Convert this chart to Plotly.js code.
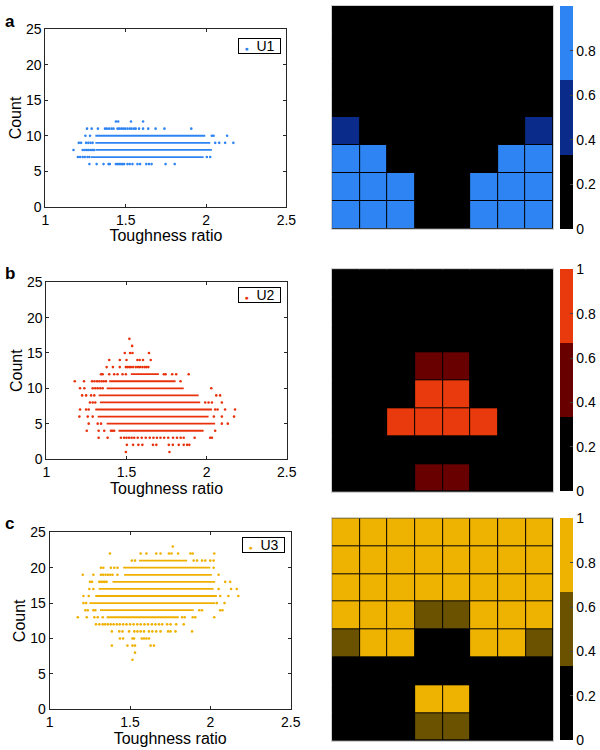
<!DOCTYPE html>
<html>
<head>
<meta charset="utf-8">
<script src="https://cdn.plot.ly/plotly-3.0.1.min.js"></script>
<style>html,body{margin:0;padding:0;background:#fff;}#chart{width:600px;height:750px;}</style>
</head>
<body>
<div id="chart"></div>
<script>
// ---------- Scatter data (Count levels, sparse points, dense segments) ----------
const u1Counts = [12, 11, 10, 9, 8, 7, 6];
const u1Points = [
  [1.439, 1.453, 1.533, 1.608],
  [1.259, 1.288, 1.327, 1.371, 1.383, 1.397, 1.412, 1.424, 1.449, 1.459, 1.472, 1.484, 1.496, 1.511, 1.525, 1.537, 1.552, 1.562, 1.583, 1.608, 1.640, 1.686, 1.741, 1.908],
  [1.249, 1.278, 2.036, 2.047, 2.131],
  [1.208, 1.222, 1.253, 1.267, 1.281, 1.294, 2.057, 2.082, 2.119, 2.170],
  [1.175, 1.232, 1.245, 1.258, 1.270, 1.284, 1.296, 1.305],
  [1.202, 1.216, 1.232, 1.245, 1.262, 1.274, 2.005, 2.026],
  [1.274, 1.319, 1.362, 1.393, 1.401, 1.439, 1.449, 1.459, 1.470, 1.480, 1.490, 1.511, 1.525, 1.542, 1.573, 1.589, 1.628, 1.645, 1.661, 1.748, 1.805]
];
const u1DenseStart = [null, null, 1.311, 1.311, 1.315, 1.284, null];
const u1DenseEnd   = [null, null, 1.995, 2.026, 2.036, 1.985, null];

const u2Counts = [17, 16, 15, 14, 13, 12, 11, 10, 9, 8, 7, 6, 5, 4, 3, 2, 1];
const u2Points = [
  [1.518],
  [1.535],
  [1.489, 1.522, 1.537, 1.640],
  [1.392, 1.458, 1.500, 1.568, 1.582, 1.603, 1.651],
  [1.376, 1.415, 1.458, 1.496, 1.506, 1.517, 1.527, 1.541, 1.558, 1.572, 1.584, 1.599, 1.613, 1.624, 1.636],
  [1.341, 1.351, 1.392, 1.423, 1.444, 1.475, 1.496, 1.733, 1.744, 1.785, 1.810, 1.888],
  [1.177, 1.235, 1.285, 1.300, 1.316, 1.330, 1.345, 1.358, 1.372, 1.837],
  [1.210, 1.237, 1.289, 1.305, 1.320, 1.336, 1.351, 2.029],
  [1.223, 1.248, 1.279, 1.299, 2.060, 2.084],
  [1.272, 1.289, 1.305, 1.991, 2.012, 2.033, 2.095],
  [1.210, 1.248, 1.264, 2.053, 2.068, 2.115, 2.177],
  [1.206, 1.258, 1.289, 2.045, 2.095, 2.171],
  [1.264, 1.320, 1.341, 2.095, 2.132],
  [1.252, 1.326, 1.361, 1.403, 1.413, 1.423, 2.053],
  [1.326, 1.382, 1.465, 1.485, 1.500, 1.516, 1.532, 1.548, 1.570, 1.595, 1.620, 1.645, 1.668, 1.690, 1.712, 1.735, 1.760, 1.790, 1.815, 1.838, 1.857, 1.925, 2.022, 2.033],
  [1.502, 1.541, 1.574, 1.599, 1.665, 1.686, 1.764, 1.789, 1.826, 1.857, 1.878, 1.892],
  [1.496, 1.768]
];
const u2DenseStart = [null, null, null, null, null, 1.527, 1.392, 1.376, 1.326, 1.334, 1.305, 1.320, 1.376, 1.450, null, null, null];
const u2DenseEnd   = [null, null, null, null, null, 1.702, 1.806, 1.857, 1.950, 1.960, 2.033, 2.012, 2.053, 1.981, null, null, null];

const u3Counts = [23, 22, 21, 20, 19, 18, 17, 16, 15, 14, 13, 12, 11, 10, 9, 8, 7];
const u3Points = [
  [1.766],
  [1.375, 1.566, 1.602, 1.663, 1.690, 1.742, 1.758, 1.799, 1.876, 1.890, 2.024],
  [1.511, 1.531, 1.896, 1.917, 1.948, 1.968, 1.999, 2.020],
  [1.319, 1.334, 1.381, 1.402, 1.422, 2.020],
  [1.206, 1.272, 1.319, 1.333, 1.348, 1.362, 1.377, 1.391, 1.422, 2.051],
  [1.251, 1.264, 1.309, 1.320, 1.332, 1.343, 1.354, 2.092, 2.123],
  [1.247, 1.272, 2.051, 2.129, 2.164],
  [1.210, 1.243, 2.061, 2.112, 2.174],
  [1.210, 1.227, 2.040, 2.088],
  [1.222, 1.237, 1.272, 1.284, 1.931, 1.948, 2.061, 2.075],
  [1.175, 1.231, 1.278, 1.299, 1.330, 1.824, 1.840, 1.890, 1.906, 2.024],
  [1.288, 1.309, 1.330, 1.345, 1.362, 1.380, 1.398, 1.418, 1.436, 1.457, 1.478, 1.500, 1.522, 1.545, 1.566, 1.590, 1.612, 1.636, 1.658, 1.680, 1.700, 1.731, 1.752, 1.787, 1.834],
  [1.387, 1.433, 1.453, 1.494, 1.527, 1.546, 1.566, 1.587, 1.618, 1.639, 1.663, 1.690, 1.737, 1.752, 1.783, 1.886],
  [1.437, 1.457, 1.515, 1.525, 1.573, 1.587, 1.602, 1.618],
  [1.387, 1.484, 1.515, 1.531, 1.628, 1.649],
  [1.531],
  [1.515]
];
const u3DenseStart = [null, null, 1.556, 1.457, 1.463, 1.391, 1.305, 1.284, 1.247, 1.313, 1.354, null, null, null, null, null, null];
const u3DenseEnd   = [null, null, 1.855, 1.999, 2.009, 2.030, 2.020, 2.040, 2.030, 1.896, 1.803, null, null, null, null, null, null];

const seriesNames = ['U1', 'U2', 'U3'];
const xTickVals = [1, 1.5, 2, 2.5];
const xTickText = ['1', '1.5', '2', '2.5'];
const yTickVals = [0, 5, 10, 15, 20, 25];

// ---------- Heatmap data (8x8, top row first) ----------
const gridA = [
  [0, 0, 0, 0, 0, 0, 0, 0],
  [0, 0, 0, 0, 0, 0, 0, 0],
  [0, 0, 0, 0, 0, 0, 0, 0],
  [0, 0, 0, 0, 0, 0, 0, 0],
  [0.5, 0, 0, 0, 0, 0, 0, 0.5],
  [1, 1, 0, 0, 0, 0, 1, 1],
  [1, 1, 1, 0, 0, 1, 1, 1],
  [1, 1, 1, 0, 0, 1, 1, 1]
];
const gridB = [
  [0, 0, 0, 0, 0, 0, 0, 0],
  [0, 0, 0, 0, 0, 0, 0, 0],
  [0, 0, 0, 0, 0, 0, 0, 0],
  [0, 0, 0, 0.5, 0.5, 0, 0, 0],
  [0, 0, 0, 1, 1, 0, 0, 0],
  [0, 0, 1, 1, 1, 1, 0, 0],
  [0, 0, 0, 0, 0, 0, 0, 0],
  [0, 0, 0, 0.5, 0.5, 0, 0, 0]
];
const gridC = [
  [1, 1, 1, 1, 1, 1, 1, 1],
  [1, 1, 1, 1, 1, 1, 1, 1],
  [1, 1, 1, 1, 1, 1, 1, 1],
  [1, 1, 1, 0.5, 0.5, 1, 1, 1],
  [0.5, 1, 1, 0, 0, 1, 1, 0.5],
  [0, 0, 0, 0, 0, 0, 0, 0],
  [0, 0, 0, 1, 1, 0, 0, 0],
  [0, 0, 0, 0.5, 0.5, 0, 0, 0]
];
const cbTicks = [0, 0.2, 0.4, 0.6, 0.8, 1];

// ---------- Styles ----------
const W = 600, H = 750;
const FONT = 'Liberation Sans, Arial, sans-serif';
const lightCols = ['#2d84f2', '#e83a0c', '#eeb200'];
const darkCols  = ['#0a2b8a', '#680000', '#6a5200'];
const markerCols = ['#2d84f2', '#e8320c', '#f0b000'];

// pixel boxes [left, right, top, bottom]
const scatBox = [[45.7, 288.3, 29.3, 206.7], [46.7, 288.7, 282.3, 459], [50, 292.7, 532.3, 709.3]];
const heatBox = [[334.3, 556.7, 6, 228.7], [334.3, 557, 269.3, 491.7], [334.3, 557, 518.3, 740.7]];
const legendBox = [[282.7, 37.7], [283.3, 286.7], [287.3, 536.7]];
const panelLabels = ['a', 'b', 'c'];
const panelLabelY = [22, 273, 523];

function xd(b) { return [b[0] / W, b[1] / W]; }
function yd(b) { return [1 - b[3] / H, 1 - b[2] / H]; }

const allCounts = [u1Counts, u2Counts, u3Counts];
const allPoints = [u1Points, u2Points, u3Points];
const allDS = [u1DenseStart, u2DenseStart, u3DenseStart];
const allDE = [u1DenseEnd, u2DenseEnd, u3DenseEnd];
const grids = [gridA, gridB, gridC];

const traces = [];
const layout = {
  width: W, height: H,
  margin: {l: 0, r: 0, t: 0, b: 0},
  paper_bgcolor: '#fff', plot_bgcolor: '#fff',
  font: {family: FONT, color: '#000', size: 14},
  showlegend: false,
  annotations: [], shapes: []
};

for (let p = 0; p < 3; p++) {
  const sx = 'x' + (2 * p + 1), sy = 'y' + (2 * p + 1);
  const hx = 'x' + (2 * p + 2), hy = 'y' + (2 * p + 2);

  // dense segments
  const lx = [], ly = [];
  allCounts[p].forEach((c, i) => {
    if (allDS[p][i] !== null) { lx.push(allDS[p][i], allDE[p][i], null); ly.push(c, c, null); }
  });
  traces.push({type: 'scatter', mode: 'lines', x: lx, y: ly, xaxis: sx, yaxis: sy,
    line: {color: markerCols[p], width: 1.8}, showlegend: false, hoverinfo: 'skip'});
  // sparse points
  const px = [], py = [];
  allCounts[p].forEach((c, i) => { allPoints[p][i].forEach(v => { px.push(v); py.push(c); }); });
  traces.push({type: 'scatter', mode: 'markers', x: px, y: py, xaxis: sx, yaxis: sy,
    name: seriesNames[p], showlegend: false,
    marker: {color: markerCols[p], size: 2.6, symbol: 'circle'}});

  // heatmap
  const cs = [[0, '#000000'], [1/3, '#000000'], [1/3, darkCols[p]], [2/3, darkCols[p]], [2/3, lightCols[p]], [1, lightCols[p]]];
  const hb = heatBox[p];
  traces.push({type: 'heatmap', z: grids[p], xaxis: hx, yaxis: hy, zmin: 0, zmax: 1,
    colorscale: cs, xgap: 1, ygap: 1, showscale: true, showlegend: false,
    colorbar: {x: 564 / W, xanchor: 'left', xref: 'paper', thickness: 13, thicknessmode: 'pixels',
      len: (hb[3] - hb[2]) / H, lenmode: 'fraction', y: 1 - hb[2] / H, yanchor: 'top', yref: 'paper',
      tickvals: cbTicks, ticks: 'inside', ticklen: 3, tickcolor: '#444', outlinewidth: 0,
      tickfont: {size: 14, family: FONT, color: '#000'}, ypad: 0, xpad: 0}});

  const b = scatBox[p];
  layout['xaxis' + (2 * p + 1)] = {domain: xd(b), anchor: sy, range: [1, 2.5], tickvals: xTickVals,
    ticktext: xTickText, ticks: 'inside', ticklen: 3, tickcolor: '#262626',
    showline: true, linecolor: '#262626', linewidth: 1, mirror: 'ticks', showgrid: false, zeroline: false,
    tickfont: {size: 14, family: FONT, color: '#000'},
    title: {text: 'Toughness ratio', font: {size: 16, family: FONT, color: '#000'}, standoff: 2}};
  layout['yaxis' + (2 * p + 1)] = {domain: yd(b), anchor: sx, range: [0, 25], tickvals: yTickVals,
    ticks: 'inside', ticklen: 3, tickcolor: '#262626',
    showline: true, linecolor: '#262626', linewidth: 1, mirror: 'ticks', showgrid: false, zeroline: false,
    tickfont: {size: 14, family: FONT, color: '#000'},
    title: {text: 'Count', font: {size: 16, family: FONT, color: '#000'}, standoff: 0}};
  layout['xaxis' + (2 * p + 2)] = {domain: xd(hb), anchor: hy, range: [-0.5, 7.5], showticklabels: false,
    ticks: '', showgrid: false, zeroline: false, showline: true, linecolor: '#cfcfcf', linewidth: 1, mirror: true};
  layout['yaxis' + (2 * p + 2)] = {domain: yd(hb), anchor: hx, range: [7.5, -0.5], showticklabels: false,
    ticks: '', showgrid: false, zeroline: false, showline: true, linecolor: '#cfcfcf', linewidth: 1, mirror: true};
  layout.shapes.push({type: 'rect', xref: hx + ' domain', yref: hy + ' domain', x0: 0, x1: 1, y0: 0, y1: 1,
    fillcolor: '#000', line: {width: 0}, layer: 'below'});

  // legend box (marker dot + series name)
  const lb = legendBox[p];
  layout.annotations.push({
    text: '<span style="color:' + markerCols[p] + ';font-size:7px">\u25CF</span>  ' + seriesNames[p],
    xref: 'paper', yref: 'paper', x: lb[0] / W, y: 1 - lb[1] / H, xanchor: 'right', yanchor: 'top',
    showarrow: false, bgcolor: '#fff', bordercolor: '#000', borderwidth: 1, borderpad: 2,
    width: 37, height: 10, align: 'center', font: {size: 14, family: FONT, color: '#000'}});

  layout.annotations.push({text: '<b>' + panelLabels[p] + '</b>', xref: 'paper', yref: 'paper',
    x: 3 / W, y: 1 - panelLabelY[p] / H, xanchor: 'left', yanchor: 'middle', showarrow: false,
    font: {size: 17, family: FONT, color: '#000'}});
}

Plotly.newPlot('chart', traces, layout, {staticPlot: true, displayModeBar: false});
</script>
</body>
</html>
